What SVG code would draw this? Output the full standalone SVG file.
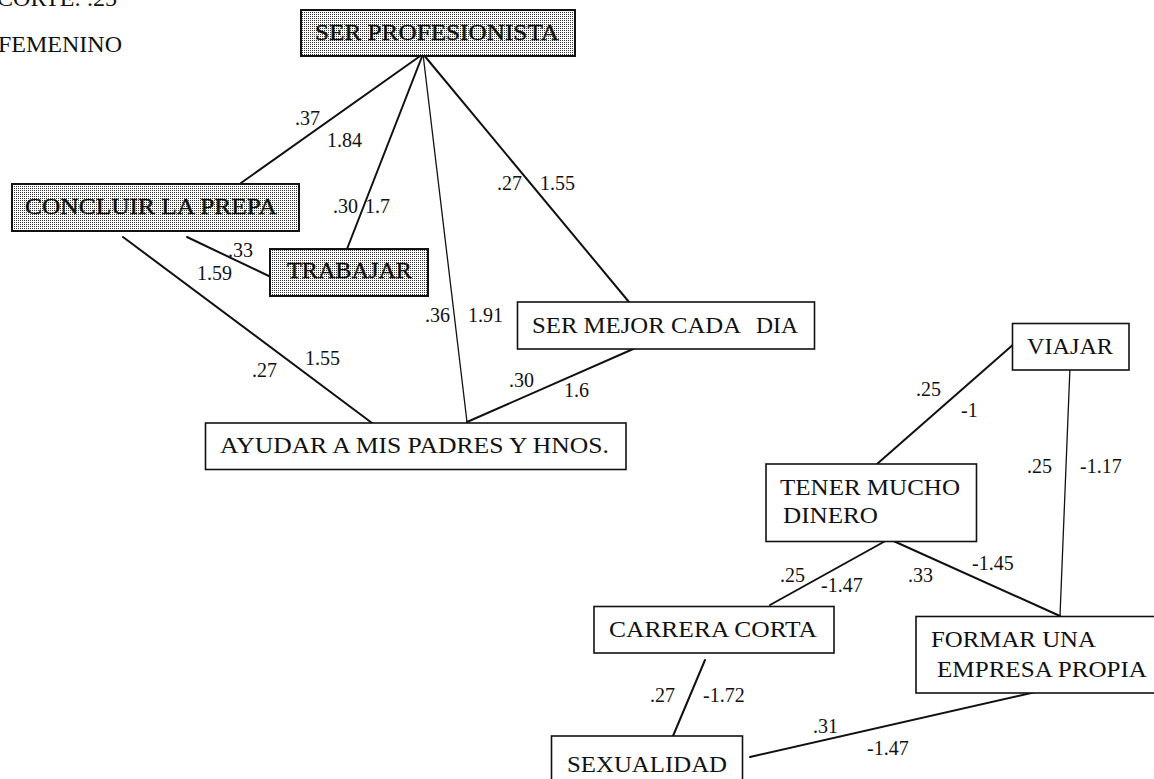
<svg xmlns="http://www.w3.org/2000/svg" width="1154" height="779" viewBox="0 0 1154 779">
<defs>
<pattern id="dots" width="2" height="2" patternUnits="userSpaceOnUse">
<rect width="2" height="2" fill="#ffffff"/>
<rect width="1" height="1" fill="#333333"/>
</pattern>
<style>
.bx{fill:#ffffff;stroke:#111;stroke-width:1.6}
.sh{fill:url(#dots);stroke:#111;stroke-width:2}
.t{font-family:"Liberation Serif","Times New Roman",serif;font-size:24px;fill:#111}
.ts{font-family:"Liberation Serif","Times New Roman",serif;font-size:24px;fill:#111;stroke:#111;stroke-width:0.4}
.n{font-family:"Liberation Serif","Times New Roman",serif;font-size:20px;fill:#111}
.c line{stroke:#111;stroke-width:2;stroke-linecap:round}
.c line.thin{stroke-width:1.3}
</style>
</defs>
<rect width="1154" height="779" fill="#ffffff"/>
<text class="t" x="117" y="6" text-anchor="end">CORTE: .25</text>
<text class="t" x="122" y="52" text-anchor="end">FEMENINO</text>

<g id="connectors" class="c">
<line x1="423" y1="54" x2="241" y2="183"/>
<line x1="423" y1="54" x2="347" y2="249"/>
<line class="thin" x1="423" y1="54" x2="467" y2="422"/>
<line x1="423" y1="54" x2="629" y2="302"/>
<line x1="187" y1="237" x2="275" y2="279"/>
<line x1="123" y1="237" x2="372" y2="423"/>
<line x1="640" y1="346" x2="467" y2="422"/>
<line x1="1015" y1="343" x2="877" y2="464"/>
<line class="thin" x1="1070" y1="367" x2="1060" y2="616"/>
<line x1="889" y1="539" x2="770" y2="605"/>
<line x1="889" y1="539" x2="1060" y2="616"/>
<line x1="705" y1="660" x2="673" y2="736"/>
<line x1="750" y1="757" x2="1040" y2="691"/>
</g>

<g id="labels">
<text class="n" x="295" y="125">.37</text>
<text class="n" x="327" y="147">1.84</text>
<text class="n" x="333" y="213">.30</text>
<text class="n" x="365" y="213">1.7</text>
<text class="n" x="228" y="257">.33</text>
<text class="n" x="197" y="280">1.59</text>
<text class="n" x="252" y="377">.27</text>
<text class="n" x="305" y="365">1.55</text>
<text class="n" x="425" y="322">.36</text>
<text class="n" x="468" y="322">1.91</text>
<text class="n" x="497" y="190">.27</text>
<text class="n" x="540" y="190">1.55</text>
<text class="n" x="509" y="387">.30</text>
<text class="n" x="564" y="397">1.6</text>
<text class="n" x="916" y="396">.25</text>
<text class="n" x="961" y="417">-1</text>
<text class="n" x="1027" y="473">.25</text>
<text class="n" x="1080" y="473">-1.17</text>
<text class="n" x="780" y="582">.25</text>
<text class="n" x="821" y="592">-1.47</text>
<text class="n" x="908" y="582">.33</text>
<text class="n" x="972" y="570">-1.45</text>
<text class="n" x="650" y="702">.27</text>
<text class="n" x="703" y="702">-1.72</text>
<text class="n" x="813" y="733">.31</text>
<text class="n" x="867" y="755">-1.47</text>
</g>

<g id="ser-profesionista">
<rect class="sh" x="301" y="10" width="274" height="46"/>
<text class="ts" x="315" y="40" textLength="244" lengthAdjust="spacingAndGlyphs">SER PROFESIONISTA</text>
</g>
<g id="concluir-la-prepa">
<rect class="sh" x="12" y="184" width="287" height="47"/>
<text class="ts" x="25" y="214" textLength="252" lengthAdjust="spacingAndGlyphs">CONCLUIR LA PREPA</text>
</g>
<g id="trabajar">
<rect class="sh" x="270" y="249" width="158" height="47"/>
<text class="ts" x="287" y="278" textLength="125" lengthAdjust="spacingAndGlyphs">TRABAJAR</text>
</g>
<g id="ser-mejor-cada-dia">
<rect class="bx" x="517.5" y="302" width="297" height="47"/>
<text class="t" x="532" y="333" textLength="209" lengthAdjust="spacingAndGlyphs">SER MEJOR CADA</text>
<text class="t" x="756" y="333" textLength="42" lengthAdjust="spacingAndGlyphs">DIA</text>
</g>
<g id="ayudar">
<rect class="bx" x="205.5" y="423" width="420.5" height="46.5"/>
<text class="t" x="220" y="453" textLength="389" lengthAdjust="spacingAndGlyphs">AYUDAR A MIS PADRES Y HNOS.</text>
</g>
<g id="viajar">
<rect class="bx" x="1012.5" y="323.5" width="116.5" height="46.5"/>
<text class="t" x="1027" y="354" textLength="86" lengthAdjust="spacingAndGlyphs">VIAJAR</text>
</g>
<g id="tener-mucho-dinero">
<rect class="bx" x="766" y="464" width="210.5" height="77.5"/>
<text class="t" x="780" y="495" textLength="180" lengthAdjust="spacingAndGlyphs">TENER MUCHO</text>
<text class="t" x="783" y="523" textLength="95" lengthAdjust="spacingAndGlyphs">DINERO</text>
</g>
<g id="carrera-corta">
<rect class="bx" x="594" y="606.5" width="240" height="46.5"/>
<text class="t" x="609" y="637" textLength="208" lengthAdjust="spacingAndGlyphs">CARRERA CORTA</text>
</g>
<g id="formar-una-empresa-propia">
<rect class="bx" x="916" y="616.5" width="250" height="76.5"/>
<text class="t" x="931" y="647" textLength="165" lengthAdjust="spacingAndGlyphs">FORMAR UNA</text>
<text class="t" x="937" y="677" textLength="210" lengthAdjust="spacingAndGlyphs">EMPRESA PROPIA</text>
</g>
<g id="sexualidad">
<rect class="bx" x="551.5" y="736" width="191" height="60"/>
<text class="t" x="567" y="772" textLength="160" lengthAdjust="spacingAndGlyphs">SEXUALIDAD</text>
</g>
</svg>
